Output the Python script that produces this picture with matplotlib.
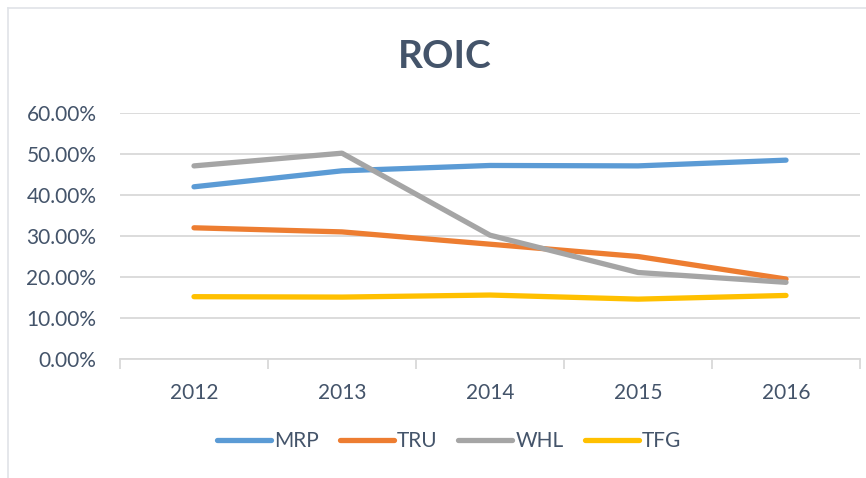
import numpy as np
import matplotlib.pyplot as plt
from matplotlib.lines import Line2D

plt.rcParams['font.family'] = ['Lato', 'DejaVu Sans']

years = ['2012', '2013', '2014', '2015', '2016']
mrp = [0.420, 0.459, 0.472, 0.471, 0.485]
tru = [0.320, 0.310, 0.280, 0.250, 0.195]
whl = [0.471, 0.502, 0.302, 0.211, 0.187]
tfg = [0.152, 0.151, 0.156, 0.146, 0.155]

series = [('MRP', mrp, '#5B9BD5'), ('TRU', tru, '#ED7D31'),
          ('WHL', whl, '#A5A5A5'), ('TFG', tfg, '#FFC000')]
text_col = '#44546A'
grid_col = '#D9D9D9'

W, H = 866, 478
fig = plt.figure(figsize=(W / 100, H / 100), dpi=100)
ax = fig.add_axes([120 / W, (H - 359) / H, 740 / W, 246 / H])

x = np.arange(len(years))
for name, vals, col in series:
    ax.plot(x, vals, color=col, lw=3.8, solid_capstyle='round',
            solid_joinstyle='round', label=name, zorder=3)

ax.set_xlim(-0.5, len(years) - 0.5)
ax.set_ylim(0, 0.6)
ax.set_yticks(np.arange(0, 0.61, 0.1))
ax.set_yticklabels([f'{v * 100:.2f}%' for v in np.arange(0, 0.61, 0.1)])
ax.yaxis.grid(True, color=grid_col, lw=1.3)
ax.set_axisbelow(True)
for s in ['top', 'right', 'left']:
    ax.spines[s].set_visible(False)
ax.spines['bottom'].set_color(grid_col)
ax.spines['bottom'].set_linewidth(1.3)
ax.tick_params(axis='y', length=0, labelsize=15, labelcolor=text_col, pad=17)

# category boundaries as ticks, labels at centers
ax.set_xticks(np.arange(-0.5, len(years), 1.0))
ax.set_xticklabels([])
ax.set_xticks(x, minor=True)
ax.set_xticklabels(years, minor=True)
ax.tick_params(axis='x', which='major', length=7, width=1.3, color=grid_col)
ax.tick_params(axis='x', which='minor', length=0, labelsize=15,
               labelcolor=text_col, pad=17)

fig.text(445 / W, 1 - 56 / H, 'ROIC', ha='center', va='center',
         fontsize=28, fontweight='bold', color=text_col)

handles = [Line2D([], [], color=c, lw=3.8, solid_capstyle='round') for _, _, c in series]
leg = fig.legend(handles, [n for n, _, _ in series], loc='center',
                 bbox_to_anchor=(449 / W, 1 - 441 / H), ncol=4, frameon=False,
                 fontsize=15, handlelength=2.6, handletextpad=0.15, columnspacing=1.0)
for t in leg.get_texts():
    t.set_color(text_col)

# chart-area frame
fig.add_artist(Line2D([8 / W, 8 / W], [0, 1 - 8 / H], transform=fig.transFigure,
                      color='#E0E3E8', lw=1.2))
fig.add_artist(Line2D([8 / W, 1], [1 - 8 / H, 1 - 8 / H], transform=fig.transFigure,
                      color='#E0E3E8', lw=1.2))

fig.savefig('out.png', dpi=100)
